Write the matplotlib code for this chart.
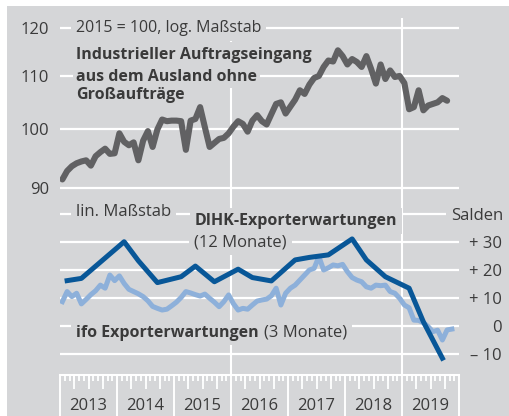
import numpy as np
import matplotlib
matplotlib.use("Agg")
import matplotlib.pyplot as plt
from matplotlib.patches import Rectangle
from matplotlib.ticker import FixedLocator, NullLocator, NullFormatter

plt.rcParams['font.family'] = ['Open Sans', 'DejaVu Sans']

# Industrieller Auftragseingang aus dem Ausland ohne Grossauftraege, 2015 = 100, monthly from Jan 2013
orders = [91.4, 92.8, 93.6, 94.1, 94.4, 94.6, 93.7, 95.3, 96.0, 96.6,
          95.7, 95.8, 99.3, 97.8, 97.2, 97.7, 94.6, 98.0, 99.7, 96.9,
          100.0, 101.8, 101.5, 101.6, 101.6, 101.5, 96.4, 101.6, 101.9, 104.1,
          100.4, 96.9, 97.6, 98.3, 98.5, 99.3, 100.5, 101.5, 101.0, 99.6,
          101.6, 102.6, 101.5, 100.9, 102.8, 104.7, 105.0, 102.9, 104.2, 105.5,
          107.3, 106.6, 108.4, 109.7, 110.1, 111.9, 113.2, 113.0, 115.3, 114.1,
          112.4, 113.5, 112.9, 111.9, 114.1, 111.5, 108.6, 112.4, 109.5, 111.2,
          109.9, 110.1, 108.7, 103.7, 104.1, 107.3, 103.5, 104.4, 104.7, 105.0,
          105.8, 105.3]

# ifo Exporterwartungen (3 Monate), Salden, monthly from Jan 2013
ifo = [8.7, 12.3, 10.5, 11.7, 7.9, 9.5, 11.2, 12.6, 14.6, 13.5,
       18.2, 16.2, 17.9, 15.2, 13.1, 12.3, 11.5, 10.5, 9.0, 7.0,
       6.3, 5.7, 6.0, 7.2, 8.5, 10.2, 12.3, 11.8, 11.2, 10.7,
       11.4, 9.9, 8.5, 6.9, 8.7, 11.1, 8.0, 5.7, 6.3, 6.0,
       7.5, 8.9, 9.3, 9.6, 10.8, 13.5, 7.5, 11.7, 13.5, 14.6,
       16.4, 18.2, 20.0, 20.6, 24.8, 20.0, 20.8, 21.8, 21.5, 22.0,
       19.4, 17.3, 16.4, 15.8, 14.0, 13.5, 14.6, 14.4, 14.6, 12.3,
       11.7, 9.9, 7.5, 6.5, 2.1, 2.0, 1.2, -0.2, -2.0, -1.5,
       -5.0, -1.4, -1.1]

# DIHK-Exporterwartungen (12 Monate), Salden, survey months
dihk_dates = ["2013-02", "2013-05", "2014-02", "2014-05", "2014-09",
              "2015-02", "2015-05", "2015-09", "2016-02", "2016-05",
              "2016-09", "2017-02", "2017-05", "2017-09", "2018-02",
              "2018-05", "2018-09", "2019-02", "2019-05", "2019-09"]
dihk = [16.2, 17.0, 30.1, 23.3, 15.5,
        17.6, 21.4, 15.8, 20.3, 17.3,
        16.1, 23.6, 24.5, 25.4, 31.1,
        23.6, 17.6, 13.5, 1.5, -11.5]

years = list(range(2013, 2020))
log_ticks = [90, 100, 110, 120]
lin_grid = [40, 30, 20, 10, 0, -10]
lin_ticks = [30, 20, 10, 0, -10]
lin_labels = ["+ 30", "+ 20", "+ 10", "0", "\u2013 10"]

BG = '#d5d6d8'
TXT = '#3a3a3a'
GRAY = '#616163'
DARK = '#085798'
LIGHT = '#8db0da'

def month_pos(n):
    return 2013 + (np.arange(n) + 0.5) / 12

def date_pos(d):
    y, m = d.split("-")
    return int(y) + (int(m) - 0.5) / 12

fig = plt.figure(figsize=(5.10, 4.16), dpi=100)
fig.patch.set_facecolor('white')
fig.add_artist(Rectangle((7 / 510, 0), 1, 410 / 416, transform=fig.transFigure,
                         facecolor=BG, edgecolor='none', zorder=-1))

L, W = 60 / 510, 399 / 510
ax1 = fig.add_axes([L, 216 / 416, W, 182 / 416])
ax2 = fig.add_axes([L, 41 / 416, W, 175 / 416])

box = dict(facecolor=BG, edgecolor='none', boxstyle='square,pad=0.3')

# ---- upper panel: log scale
ax1.set_facecolor('none')
ax1.set_yscale('log')
ax1.set_xlim(2013, 2020)
ax1.set_ylim(88.08, 122.2)
for s in ax1.spines.values():
    s.set_visible(False)
ax1.yaxis.set_major_locator(FixedLocator(log_ticks))
ax1.set_yticklabels([str(v) for v in log_ticks])
ax1.yaxis.set_minor_locator(NullLocator())
ax1.yaxis.set_minor_formatter(NullFormatter())
ax1.tick_params(axis='y', length=0, pad=8, labelsize=12, labelcolor=TXT)
ax1.set_xticks([])
for v in log_ticks:
    ax1.axhline(v, color='white', lw=1.6, zorder=1)
for x in (2016, 2019):
    ax1.axvline(x, color='white', lw=1.5, zorder=1)

ax1.plot(month_pos(len(orders)), orders, color=GRAY, lw=4.4,
         solid_joinstyle='round', solid_capstyle='round', zorder=4)

ax1.text(0.040, 0.923, "2015 = 100, log. Maßstab", transform=ax1.transAxes,
         fontsize=11.5, color=TXT, va='baseline', bbox=box, zorder=2)
ax1.text(0.040, 0.777, "Industrieller Auftragseingang", transform=ax1.transAxes,
         fontsize=11.5, fontweight='bold', color=TXT, va='baseline', bbox=box, zorder=2)
ax1.text(0.040, 0.654, "aus dem Ausland ohne", transform=ax1.transAxes,
         fontsize=11.5, fontweight='bold', color=TXT, va='baseline',
         bbox=dict(box, boxstyle='square,pad=0.2'), zorder=2)
ax1.text(0.040, 0.555, "Großaufträge", transform=ax1.transAxes,
         fontsize=11.5, fontweight='bold', color=TXT, va='baseline', bbox=box, zorder=2)

# ---- lower panel: linear scale
ax2.set_facecolor('none')
ax2.set_xlim(2013, 2020)
ax2.set_ylim(-17.5, 45)
for k, s in ax2.spines.items():
    s.set_visible(k == 'bottom')
ax2.spines['bottom'].set_color('white')
ax2.spines['bottom'].set_linewidth(1.5)
ax2.yaxis.tick_right()
ax2.set_yticks(lin_ticks)
ax2.set_yticklabels(lin_labels)
for lab in ax2.get_yticklabels():
    lab.set_horizontalalignment('right')
ax2.tick_params(axis='y', length=0, pad=31, labelsize=12, labelcolor=TXT)

ax2.set_xticks(range(2013, 2021))
ax2.set_xticklabels([])
ax2.xaxis.set_minor_locator(FixedLocator(2013 + np.arange(85) / 12))
ax2.tick_params(axis='x', which='major', direction='out', length=30, width=1.4, color='white')
ax2.tick_params(axis='x', which='minor', direction='out', length=4.5, width=1.3, color='white')
quarters = [y + q / 4 for y in years for q in (1, 2, 3)]
ax2.vlines(quarters, -14 / 175, 0, transform=ax2.get_xaxis_transform(),
           color='white', lw=1.3, clip_on=False)
for y in years:
    ax2.text(y + 0.5, -0.18, str(y), transform=ax2.get_xaxis_transform(),
             ha='center', va='center', fontsize=12, color=TXT)

for v in lin_grid:
    ax2.axhline(v, color='white', lw=1.6, zorder=1)
for x in (2016, 2019):
    ax2.axvline(x, color='white', lw=1.5, zorder=1)

ax2.plot(month_pos(len(ifo)), ifo, color=LIGHT, lw=3.6,
         solid_joinstyle='round', zorder=4)
ax2.plot([date_pos(d) for d in dihk_dates], dihk, color=DARK, lw=3.6,
         solid_joinstyle='round', zorder=5)

ax2.text(0.040, 0.909, "lin. Maßstab", transform=ax2.transAxes,
         fontsize=12, color=TXT, va='baseline', bbox=box, zorder=2)
ax2.text(1.110, 0.886, "Salden", transform=ax2.transAxes, ha='right',
         fontsize=12, color=TXT, va='baseline', bbox=box, zorder=2)
ax2.text(0.337, 0.857, "DIHK-Exporterwartungen", transform=ax2.transAxes,
         fontsize=11.5, fontweight='bold', color=TXT, va='baseline', bbox=box, zorder=2)
ax2.text(0.337, 0.737, "(12 Monate)", transform=ax2.transAxes,
         fontsize=12, color=TXT, va='baseline', bbox=box, zorder=2)
ifo_txt = ax2.text(0.040, 0.219, "ifo Exporterwartungen", transform=ax2.transAxes,
                   fontsize=11.5, fontweight='bold', color=TXT, va='baseline',
                   bbox=box, zorder=3)
ax2.annotate("(3 Monate)", xy=(1, 0), xycoords=ifo_txt, xytext=(4, 0),
             textcoords='offset points', va='bottom',
             fontsize=12, color=TXT, bbox=box, zorder=2)

fig.savefig("out.png", dpi=100, facecolor=fig.get_facecolor())
